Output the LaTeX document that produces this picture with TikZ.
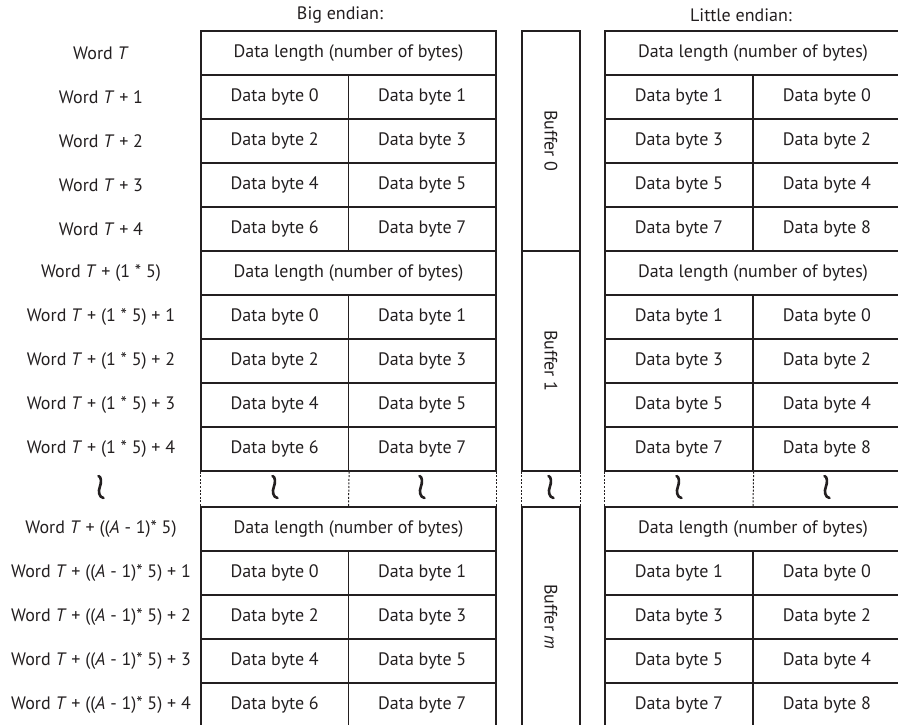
\documentclass[tikz,border=0pt]{standalone}
\usepackage{fontspec}
\setmainfont{PT Sans}
\usetikzlibrary{calc}
\definecolor{ink}{HTML}{231F20}

\begin{document}
\begin{tikzpicture}[x=1pt,y=-1pt,
  every node/.style={font=\fontsize{18}{21}\selectfont, text=ink},
  cell/.style={draw=ink, line width=1.2pt, minimum height=44pt, inner sep=0pt},
  lenbox/.style={cell, minimum width=295pt},
  bytebox/.style={cell, minimum width=147.5pt},
  buffbox/.style={cell, minimum width=58pt, minimum height=220pt},
  brk/.style={ink, line width=1pt, dash pattern=on 2pt off 1.6pt},
  wave/.style={ink, line width=2.6pt, line cap=round}]
\useasboundingbox (0,0) rectangle (898,725);
\clip (0,0) rectangle (898,725);

% column titles
\node (bigtitle) at (340,15) {Big endian:};
\node (littitle) at (741,15) {Little endian:};

% three buffers: 0, 1 and m
\foreach \g/\top/\pre/\bname in {0/31/{Word \textit{T}}/0,
    1/251/{Word \textit{T} + (1 * 5)}/1,
    2/507/{Word \textit{T} + ((\textit{A} - 1)* 5)}/\textit{m}} {
  \node (word\g0) at (101,{\top+22}) {\pre};
  \node[lenbox] (biglen\g) at (348.5,{\top+22}) {Data length (number of bytes)};
  \node[lenbox, minimum width=296pt] (litlen\g) at (753,{\top+22}) {Data length (number of bytes)};
  \node[buffbox] (buf\g) at (551,{\top+110}) {};
  \node[rotate=-90] (buflab\g) at (buf\g) {Buffer \bname};
  \foreach \r/\a/\b/\c/\d in {1/0/1/1/0, 2/2/3/3/2, 3/4/5/5/4, 4/6/7/7/8} {
    \ifnum\g=0
      \node (word\g\r) at (101,{\top+22+44*\r}) {Word \textit{T} + \r};
    \else
      \node (word\g\r) at (101,{\top+22+44*\r}) {\pre{} + \r};
    \fi
    \node[bytebox] (bigA\g\r) at (274.75,{\top+22+44*\r}) {Data byte \a};
    \node[bytebox] (bigB\g\r) at (422.25,{\top+22+44*\r}) {Data byte \b};
    \node[bytebox, minimum width=148pt] (litA\g\r) at (679,{\top+22+44*\r}) {Data byte \c};
    \node[bytebox, minimum width=148pt] (litB\g\r) at (827,{\top+22+44*\r}) {Data byte \d};
  }
}

% break row between buffer 1 and buffer m
\draw[brk] (bigA14.south west) -- (biglen2.north west);
\draw[brk] (bigA14.south east) -- (biglen2.north);
\draw[brk] (bigB14.south east) -- (biglen2.north east);
\draw[brk] (buf1.south west) -- (buf2.north west);
\draw[brk] (buf1.south east) -- (buf2.north east);
\draw[brk] (litA14.south west) -- (litlen2.north west);
\draw[brk] (litA14.south east) -- (litlen2.north);

\foreach \x [count=\i] in {101,275,422,551,679,827} {
  \coordinate (gap\i) at (\x,487);
  \draw[wave] ($(gap\i)+(-2.5,-11)$) .. controls ($(gap\i)+(0.5,-10.5)$) and ($(gap\i)+(0.5,-4)$) .. ($(gap\i)+(-1.2,0)$)
    .. controls ($(gap\i)+(-3,4)$) and ($(gap\i)+(-2,10.5)$) .. ($(gap\i)+(2.5,11)$);
}
\end{tikzpicture}
\end{document}
